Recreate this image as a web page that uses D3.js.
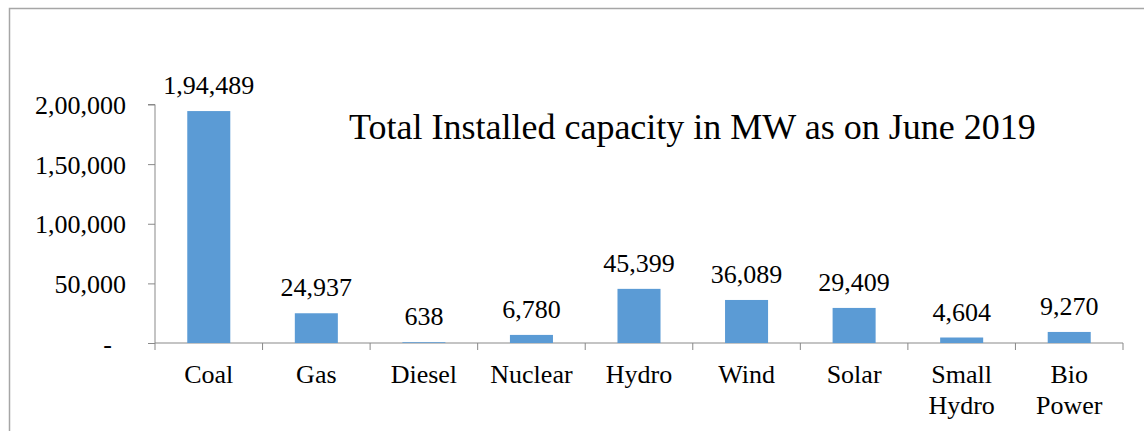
<!DOCTYPE html>
<html>
<head>
<meta charset="utf-8">
<script src="https://cdn.jsdelivr.net/npm/d3@7"></script>
<style>
  body { margin: 0; background: #fff; }
  svg text { font-family: "Liberation Serif", "Times New Roman", serif; fill: #000; }
</style>
</head>
<body>
<script>
// chart data
var categories = ["Coal", "Gas", "Diesel", "Nuclear", "Hydro", "Wind", "Solar", "Small Hydro", "Bio Power"];
var capacity = [194489, 24937, 638, 6780, 45399, 36089, 29409, 4604, 9270];
var yTicks = [0, 50000, 100000, 150000, 200000];
var tickLabels = ["-", "50,000", "1,00,000", "1,50,000", "2,00,000"];
var barLabels = ["1,94,489", "24,937", "638", "6,780", "45,399", "36,089", "29,409", "4,604", "9,270"];
var title = "Total Installed capacity in MW as on June 2019";

var W = 1144, H = 431;
var margin = {top: 104.5, right: 21, bottom: 88, left: 155};
var width = W - margin.left - margin.right;
var height = H - margin.top - margin.bottom;

var svg = d3.select("body").append("svg")
    .attr("width", W)
    .attr("height", H);

// outer border (chart area frame)
svg.append("path")
    .attr("d", "M9.5," + H + "V8.5H" + W)
    .attr("fill", "none")
    .attr("stroke", "#a6a6a6")
    .attr("stroke-width", 1.5);

var g = svg.append("g")
    .attr("transform", "translate(" + margin.left + "," + margin.top + ")");

var x = d3.scaleBand().domain(categories).range([0, width]).paddingInner(0.6).paddingOuter(0.3);
var xTicks = d3.scaleLinear().domain([0, categories.length]).range([0, width]);
var y = d3.scaleLinear().domain([0, 200000]).range([height, 0]);

// y axis
var yAxis = d3.axisLeft(y).tickValues(yTicks).tickSize(7).tickPadding(22)
    .tickFormat(function(d, i) { return tickLabels[i]; });
var yG = g.append("g").call(yAxis);
yG.selectAll("text")
    .style("font-size", "26px")
    .style("font-family", "'Liberation Serif', serif")
    .attr("dy", "0.35em");
// accounting style zero: dash sits left of the number column
yG.selectAll(".tick")
    .filter(function(d) { return d === 0; })
    .select("text")
    .attr("x", -43);
yG.selectAll("line, path").attr("stroke", "#898989");
yG.select(".domain").attr("d", "M0," + height + "V0H-7");

// x axis: baseline and category tick marks between bands
g.append("line")
    .attr("x1", 0).attr("x2", width)
    .attr("y1", height).attr("y2", height)
    .attr("stroke", "#898989");
d3.range(categories.length + 1).forEach(function(i) {
    g.append("line")
        .attr("x1", xTicks(i)).attr("x2", xTicks(i))
        .attr("y1", height).attr("y2", height + 7)
        .attr("stroke", "#898989");
});

// bars
g.selectAll(".bar")
    .data(capacity)
    .enter()
    .append("rect")
        .attr("class", "bar")
        .attr("x", function(d, i) { return x(categories[i]); })
        .attr("width", x.bandwidth())
        .attr("y", function(d) { return y(d); })
        .attr("height", function(d) { return height - y(d); })
        .attr("fill", "#5b9bd5");

// value labels
g.selectAll(".val")
    .data(capacity)
    .enter()
    .append("text")
        .attr("class", "val")
        .attr("x", function(d, i) { return x(categories[i]) + x.bandwidth() / 2; })
        .attr("y", function(d) { return y(d) - 17; })
        .attr("text-anchor", "middle")
        .style("font-size", "26px")
        .text(function(d, i) { return barLabels[i]; });

// category labels (wrap two-word names)
categories.forEach(function(c, i) {
    var t = g.append("text")
        .attr("text-anchor", "middle")
        .attr("x", x(c) + x.bandwidth() / 2)
        .attr("y", height + 40)
        .style("font-size", "26px");
    var words = c.split(" ");
    words.forEach(function(w, j) {
        t.append("tspan")
            .attr("x", x(c) + x.bandwidth() / 2)
            .attr("dy", j == 0 ? 0 : 31)
            .text(w);
    });
});

// title
svg.append("text")
    .attr("x", 349)
    .attr("y", 139)
    .style("font-size", "36px")
    .text(title);
</script>
</body>
</html>
